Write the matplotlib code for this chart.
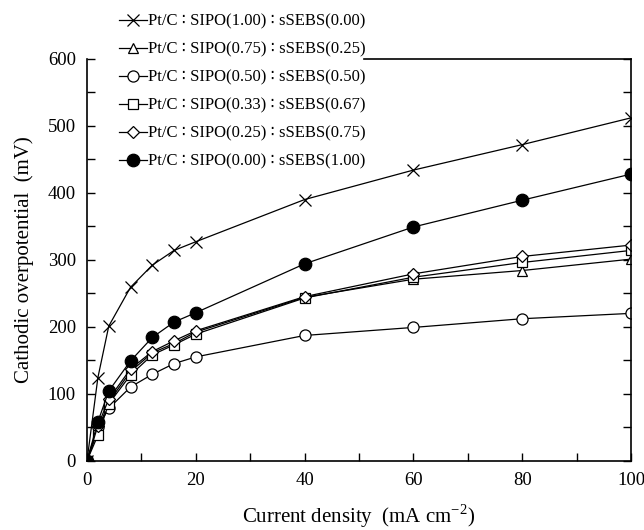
import matplotlib
matplotlib.use('Agg')
import matplotlib.pyplot as plt
from matplotlib.ticker import MultipleLocator

plt.rcParams['font.family'] = ['Liberation Serif', 'DejaVu Sans']
plt.rcParams['mathtext.fontset'] = 'custom'
plt.rcParams['mathtext.rm'] = 'Liberation Serif'

# current density (mA cm-2)
current = [0, 2, 4, 8, 12, 16, 20, 40, 60, 80, 100]

# cathodic overpotential (mV)
sipo100 = [0, 124, 201, 259, 292, 314, 327, 390, 434, 472, 512]
sipo075 = [0, 45, 88, 133, 161, 175, 192, 244, 271, 284, 301]
sipo050 = [0, 50, 78, 110, 129, 145, 155, 187, 199, 212, 220]
sipo033 = [0, 38, 85, 128, 158, 173, 189, 243, 274, 296, 314]
sipo025 = [0, 52, 92, 137, 163, 179, 194, 245, 279, 305, 322]
sipo000 = [0, 58, 104, 149, 184, 207, 221, 294, 349, 389, 428]

labels = ['Pt/C \u2236 SIPO(1.00) \u2236 sSEBS(0.00)',
          'Pt/C \u2236 SIPO(0.75) \u2236 sSEBS(0.25)',
          'Pt/C \u2236 SIPO(0.50) \u2236 sSEBS(0.50)',
          'Pt/C \u2236 SIPO(0.33) \u2236 sSEBS(0.67)',
          'Pt/C \u2236 SIPO(0.25) \u2236 sSEBS(0.75)',
          'Pt/C \u2236 SIPO(0.00) \u2236 sSEBS(1.00)']

fig = plt.figure(figsize=(6.44, 5.30), dpi=100)
ax = fig.add_axes([0.1351, 0.1308, 0.8447, 0.7580])

lw = 0.9
ax.plot(current, sipo100, color='black', lw=lw, marker='x', ms=9, mew=0.9, label=labels[0])
ax.plot(current, sipo075, color='black', lw=lw, marker='^', ms=7.5, mfc='white', mew=0.9, label=labels[1])
ax.plot(current, sipo050, color='black', lw=lw, marker='o', ms=8, mfc='white', mew=0.9, label=labels[2])
ax.plot(current, sipo033, color='black', lw=lw, marker='s', ms=7.5, mfc='white', mew=0.9, label=labels[3])
ax.plot(current, sipo025, color='black', lw=lw, marker='D', ms=6.5, mfc='white', mew=0.9, label=labels[4])
ax.plot(current, sipo000, color='black', lw=lw, marker='o', ms=9, mfc='black', mew=0.9, label=labels[5])

ax.set_xlim(0, 100)
ax.set_ylim(0, 600)
ax.xaxis.set_major_locator(MultipleLocator(20))
ax.xaxis.set_minor_locator(MultipleLocator(10))
ax.yaxis.set_major_locator(MultipleLocator(100))
ax.yaxis.set_minor_locator(MultipleLocator(50))
ax.tick_params(which='both', direction='in', right=True, top=False, labelsize=13.5, width=1)
ax.tick_params(which='major', length=6)
ax.tick_params(which='minor', length=6)
ax.tick_params(axis='x', pad=8)
ax.tick_params(axis='y', pad=8)

for s in ax.spines.values():
    s.set_linewidth(1.2)
ax.spines['top'].set_bounds(51, 100)

ax.set_xlabel('Current density  (mA cm$^{-2}$)', fontsize=15, labelpad=10)
ax.set_ylabel('Cathodic overpotential  (mV)', fontsize=15, labelpad=10)

leg = ax.legend(loc='upper left', bbox_to_anchor=(0.046, 1.13), frameon=False,
                fontsize=12, handlelength=1.7, handletextpad=0.05,
                labelspacing=0.72, borderaxespad=0)

fig.savefig('out.png', dpi=100)
